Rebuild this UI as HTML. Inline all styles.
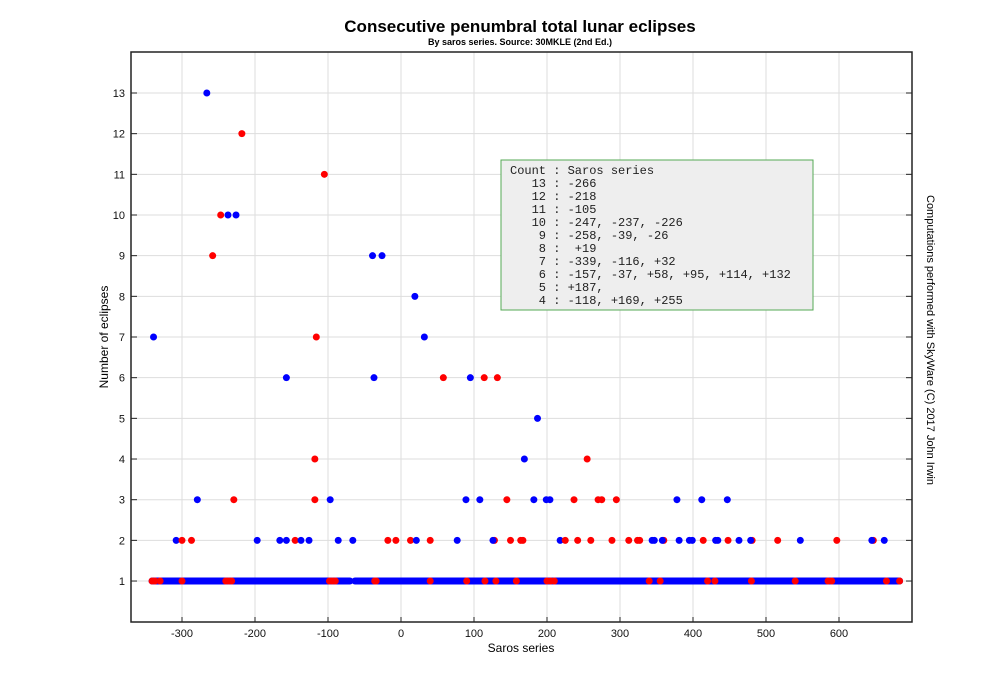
<!DOCTYPE html>
<html><head><meta charset="utf-8"><style>body{margin:0;background:#fff}svg{display:block}.m text{white-space:pre}</style></head>
<body>
<svg width="1008" height="700" xmlns="http://www.w3.org/2000/svg" font-family="Liberation Sans, sans-serif">
<rect width="1008" height="700" fill="#fff"/>
<text x="520" y="32" font-size="17" font-weight="bold" text-anchor="middle">Consecutive penumbral total lunar eclipses</text>
<text x="520" y="45" font-size="9" font-weight="bold" text-anchor="middle">By saros series. Source: 30MKLE (2nd Ed.)</text>
<g id="grid" stroke="#ddd" stroke-width="1"></g>
<rect x="131" y="52" width="781" height="570" fill="none" stroke="#222" stroke-width="1.5"/>
<g id="ticks" font-size="11" fill="#111"></g>
<text x="521" y="652" font-size="12" text-anchor="middle">Saros series</text>
<text transform="translate(108,337) rotate(-90)" font-size="12" text-anchor="middle">Number of eclipses</text>
<text transform="translate(927,340) rotate(90)" font-size="11" text-anchor="middle">Computations performed with SkyWare (C) 2017 John Irwin</text>
<g id="pts"></g>
<rect x="501" y="160" width="312" height="150" fill="#eee" stroke="#5a5" stroke-width="1"/>
<g class="m" font-family="Liberation Mono, monospace" font-size="12" fill="#222">
<text x="510" y="174">Count : Saros series</text>
<text x="510" y="187">   13 : -266</text>
<text x="510" y="200">   12 : -218</text>
<text x="510" y="213">   11 : -105</text>
<text x="510" y="226">   10 : -247, -237, -226</text>
<text x="510" y="239">    9 : -258, -39, -26</text>
<text x="510" y="252">    8 :  +19</text>
<text x="510" y="265">    7 : -339, -116, +32</text>
<text x="510" y="278">    6 : -157, -37, +58, +95, +114, +132</text>
<text x="510" y="291">    5 : +187,</text>
<text x="510" y="304">    4 : -118, +169, +255</text>
</g>
<script>
var NS="http://www.w3.org/2000/svg";
function X(s){return 401+0.73*s}function Y(n){return 621.7-40.67*n}
function el(p,t,a,txt){var e=document.createElementNS(NS,t);for(var k in a)e.setAttribute(k,a[k]);if(txt!=null)e.textContent=txt;document.getElementById(p).appendChild(e);return e}
for(var s=-300;s<=600;s+=100){el("grid","line",{x1:X(s),x2:X(s),y1:52,y2:622});el("ticks","line",{x1:X(s),x2:X(s),y1:622,y2:617,stroke:"#222"});el("ticks","text",{x:X(s),y:637,"text-anchor":"middle"},s);}
for(var n=1;n<=13;n++){el("grid","line",{x1:131,x2:912,y1:Y(n),y2:Y(n)});el("ticks","line",{x1:131,x2:137,y1:Y(n),y2:Y(n),stroke:"#222"});el("ticks","line",{x1:906,x2:912,y1:Y(n),y2:Y(n),stroke:"#222"});el("ticks","text",{x:125,y:Y(n)+4,"text-anchor":"end"},n);}
var B="blue",R="red";
[[-341,-70],[-63,683]].forEach(function(g){el("pts","line",{x1:X(g[0]),x2:X(g[1]),y1:Y(1),y2:Y(1),stroke:B,"stroke-width":7,"stroke-linecap":"round"})});
var r1=[-341,-337,-330,-300,-240,-236,-232,-98,-94,-90,-36,-34,40,90,115,130,158,200,205,210,340,355,420,430,480,540,585,590,665,683];
r1.forEach(function(s){el("pts","circle",{cx:X(s),cy:Y(1),r:3.5,fill:R})});
var pts=[
[-308,2,B],[-300,2,R],[-287,2,R],[-197,2,B],[-166,2,B],[-157,2,B],[-145,2,R],[-137,2,B],[-126,2,B],[-86,2,B],[-66,2,B],[-18,2,R],[-7,2,R],[13,2,R],[21,2,B],[40,2,R],[77,2,B],[128,2,R],[126,2,B],[150,2,R],[164,2,R],[167,2,R],[218,2,B],[225,2,R],[242,2,R],[260,2,R],[289,2,R],[312,2,R],[324,2,R],[327,2,R],[344,2,B],[347,2,B],[360,2,R],[358,2,B],[381,2,B],[395,2,B],[399,2,B],[414,2,R],[431,2,B],[434,2,B],[448,2,R],[463,2,B],[481,2,R],[479,2,B],[516,2,R],[547,2,B],[597,2,R],[647,2,R],[645,2,B],[662,2,B],
[-279,3,B],[-229,3,R],[-118,3,R],[-97,3,B],[89,3,B],[108,3,B],[145,3,R],[182,3,B],[199,3,B],[204,3,B],[237,3,R],[270,3,R],[275,3,R],[295,3,R],[378,3,B],[412,3,B],[447,3,B],
[-118,4,R],[169,4,B],[255,4,R],[187,5,B],
[-157,6,B],[-37,6,B],[58,6,R],[95,6,B],[114,6,R],[132,6,R],
[-339,7,B],[-116,7,R],[32,7,B],[19,8,B],
[-258,9,R],[-39,9,B],[-26,9,B],[-247,10,R],[-237,10,B],[-226,10,B],
[-105,11,R],[-218,12,R],[-266,13,B]];
pts.forEach(function(p){el("pts","circle",{cx:X(p[0]),cy:Y(p[1]),r:3.5,fill:p[2]})});
</script>
</svg>
</body></html>
